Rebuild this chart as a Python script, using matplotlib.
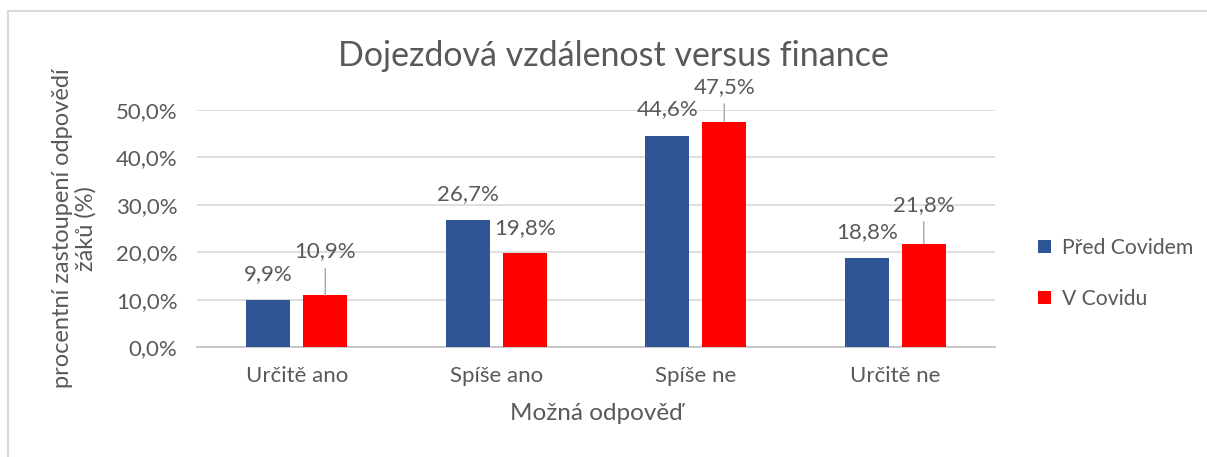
import matplotlib
matplotlib.use('Agg')
import matplotlib.pyplot as plt
from matplotlib.patches import Rectangle
import numpy as np

# data
categories = ['Určitě ano', 'Spíše ano', 'Spíše ne', 'Určitě ne']
pred_covidem = [9.9, 26.7, 44.6, 18.8]
v_covidu = [10.9, 19.8, 47.5, 21.8]
series_names = ['Před Covidem', 'V Covidu']

plt.rcParams['font.family'] = ['Lato', 'DejaVu Sans']
txt = '#595959'
blue = '#2F5597'
red = '#FF0000'

fig = plt.figure(figsize=(12.07, 4.57), dpi=100)
ax = fig.add_axes([197 / 1207, 1 - 347 / 457, 798 / 1207, 237 / 457])

# outer chart border (only top and left visible in the crop)
fig.patches.append(Rectangle((8 / 1207, -0.1), 1.2, 1 - 11 / 457 + 0.1,
                             transform=fig.transFigure, fill=False,
                             edgecolor='#d9d9d9', linewidth=1.5))

x = np.arange(len(categories))
w = 0.22
off = 0.143
ax.bar(x - off, [v / 100 for v in pred_covidem], w, color=blue, label=series_names[0], zorder=3)
ax.bar(x + off, [v / 100 for v in v_covidu], w, color=red, label=series_names[1], zorder=3)

ax.set_xlim(-0.5, len(categories) - 0.5)
ax.set_ylim(0, 0.5)
ax.set_yticks(np.arange(0, 0.51, 0.1))
ax.set_yticklabels([f'{v:.1f}%'.replace('.', ',') for v in np.arange(0, 51, 10)])
ax.set_xticks(x)
ax.set_xticklabels(categories)
ax.tick_params(length=0, labelsize=16, colors=txt)
ax.tick_params(axis='y', pad=14)
ax.tick_params(axis='x', pad=14)
ax.grid(axis='y', color='#d9d9d9', linewidth=1.2, zorder=0)
for s in ['top', 'right', 'left']:
    ax.spines[s].set_visible(False)
ax.spines['bottom'].set_color('#bfbfbf')
ax.spines['bottom'].set_linewidth(1.2)


def fmt(v):
    return f'{v:.1f}%'.replace('.', ',')


# data labels; some red labels are lifted with a leader line
lift_blue = [26, 26, 27, 26]
lift_red = [44, 25, 35, 39]
for i in range(len(categories)):
    ax.annotate(fmt(pred_covidem[i]), (x[i] - off, pred_covidem[i] / 100),
                xytext=(0, lift_blue[i]), textcoords='offset pixels',
                ha='center', va='center', fontsize=16, color=txt, annotation_clip=False)
    ax.annotate(fmt(v_covidu[i]), (x[i] + off, v_covidu[i] / 100),
                xytext=(0, lift_red[i]), textcoords='offset pixels',
                ha='center', va='center', fontsize=16, color=txt, annotation_clip=False)
    if lift_red[i] > 30:
        ax.annotate('', (x[i] + off, v_covidu[i] / 100),
                    xytext=(0, lift_red[i] - 17), textcoords='offset pixels',
                    arrowprops=dict(arrowstyle='-', color='#a6a6a6', lw=1,
                                    shrinkA=0, shrinkB=0),
                    annotation_clip=False)

fig.text(613 / 1207, 1 - 56 / 457, 'Dojezdová vzdálenost versus finance',
         ha='center', va='center', fontsize=24.5, color=txt)
ax.set_xlabel('Možná odpověď', fontsize=17.5, color=txt, labelpad=12)
ax.set_ylabel('procentní zastoupení odpovědí\nžáků (%)', fontsize=17, color=txt,
              labelpad=14, linespacing=1.1)

ax.legend(loc='center left', bbox_to_anchor=(1.03, 0.31), frameon=False,
          fontsize=15.2, labelcolor=txt, handlelength=0.6, handleheight=0.6,
          handletextpad=0.55, labelspacing=1.45)

fig.savefig('out.png', dpi=100)
